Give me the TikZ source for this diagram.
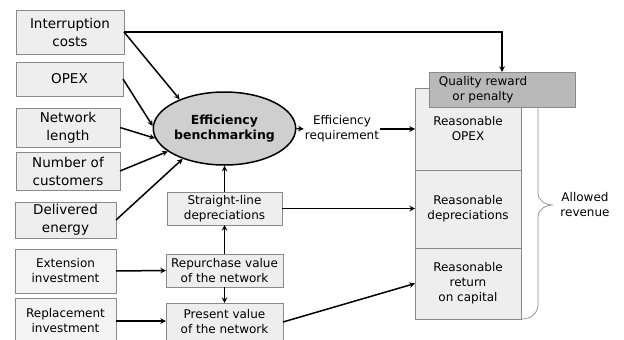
\documentclass[tikz,border=0pt]{standalone}
\usepackage{fontspec}
\setmainfont{DejaVu Sans}
\usetikzlibrary{arrows,shapes,positioning,calc}
\definecolor{boxfill}{HTML}{EEEEEE}
\definecolor{lightfill}{HTML}{F3F3F3}
\definecolor{boxline}{HTML}{8A8A8A}
\definecolor{ebfill}{HTML}{CFCFCF}
\definecolor{qualfill}{HTML}{B9B9B9}
\tikzset{
	block/.style={
		rectangle,
		draw=boxline,
		line width=0.8pt,
		fill=boxfill,
		inner sep=0pt,
		outer sep=0pt,
		align=center,
		font=\fontsize{12}{15}\selectfont,
	},
	input/.style={
		block,
		font=\fontsize{13.5}{18}\selectfont,
	},
	flow/.style={
		->,
		line width=1.5pt,
	},
}

\begin{document}
\begin{tikzpicture}[x=1pt, y=-1pt, >=stealth]

	\useasboundingbox (0,0) rectangle (624,340);

	\tikzstyle{label}=[align=center,inner sep=1pt,font=\fontsize{12}{15}\selectfont]

	% revenue column
	\node [block, minimum width=106, minimum height=82] (ROPEX) at (468,129) {Reasonable\\OPEX};
	\node [block, minimum width=106, minimum height=78, below=0pt of ROPEX] (RD) {Reasonable\\depreciations};
	\node [block, minimum width=106, minimum height=71, below=0pt of RD] (RRC) {Reasonable\\return\\on capital};
	\node [block, fill=qualfill, minimum width=146, minimum height=35] (QRP) at (502,89.5) {};
	\node [label] (QRPtext) at (483,89.5) {Quality reward\\or penalty};

	% brace
	\draw [boxline, line width=0.7pt] (538,107) -- (538,193) to[out=-90,in=180] (553,205)
		to[out=180,in=90] (538,217) -- (538,305) to[out=-90,in=0] (522,319);
	\node [label] (AR) at (585,205) {Allowed\\revenue};

	% benchmarking and capital
	\node [ellipse, draw, line width=1.5pt, fill=ebfill, minimum width=115, minimum height=73, inner sep=0pt,
		align=center, font=\bfseries\fontsize{12.5}{15}\selectfont] (EB) at (224.5,128.5) {Efficiency\\benchmarking};
	\node [label] (ER) at (342,129) {Efficiency\\requirement};
	\node [block, minimum width=115, minimum height=33] (SLD) at (224.5,208.5) {Straight-line\\depreciations};
	\node [block, minimum width=117, minimum height=33] (RV) at (224.5,270.5) {Repurchase value\\of the network};
	\node [block, minimum width=117, minimum height=38] (PV) at (224.5,322) {Present value\\of the network};

	% inputs
	\node [input, minimum width=108, minimum height=44] (IC) at (70,32) {Interruption\\costs};
	\node [input, minimum width=107, minimum height=34] (OPEX) at (69.5,79) {OPEX};
	\node [input, minimum width=104, minimum height=39] (NL) at (68,127.5) {Network\\length};
	\node [input, minimum width=104, minimum height=38] (NC) at (68,171) {Number of\\customers};
	\node [input, minimum width=101, minimum height=36] (DE) at (65.5,220) {Delivered\\energy};
	\node [block, fill=lightfill, minimum width=101, minimum height=44] (EI) at (65.5,271) {Extension\\investment};
	\node [block, fill=lightfill, minimum width=101, minimum height=46] (RI) at (65.5,321) {Replacement\\investment};

	\draw [flow] (IC.east) -| (QRP.north);
	\draw [flow] (IC.east) -- (EB.147);
	\draw [flow] (OPEX.east) -- (EB.178);
	\draw [flow] (NL.east) -- (EB.188);
	\draw [flow] (NC.east) -- (EB.202);
	\draw [flow] (DE.east) -- (EB.216);
	\draw [flow] (EB.east) -- (ER.west);
	\draw [flow] (ER.east) -- (ROPEX.west);
	\draw [flow] (SLD.north) -- (EB.south);
	\draw [flow] (RV.north) -- (SLD.south);
	\draw [flow] (RV.south) -- (PV.north);
	\draw [flow] (EI.east) -- (RV.west);
	\draw [flow] (RI.east) -- (RI.east -| PV.west);
	\draw [flow] (SLD.east) -- (SLD.east -| RD.west);
	\draw [flow] (PV.east) -- (RRC.west);
\end{tikzpicture}
\end{document}
